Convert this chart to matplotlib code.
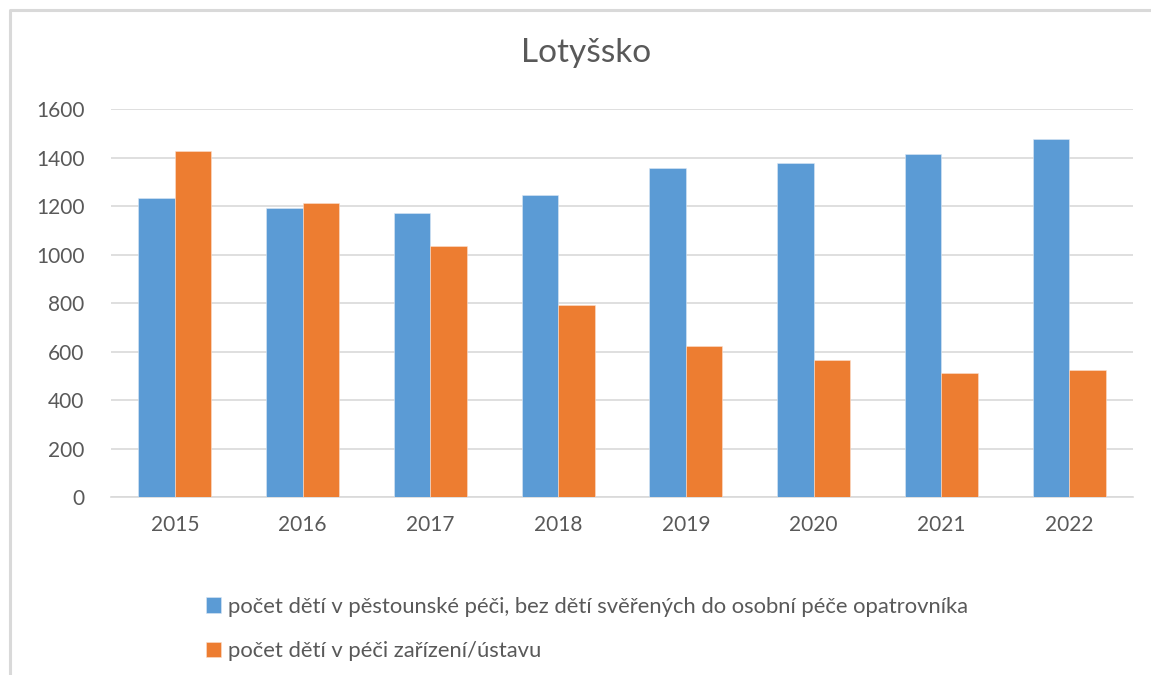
import numpy as np
import matplotlib.pyplot as plt
from matplotlib.lines import Line2D

plt.rcParams['font.family'] = ['Lato', 'DejaVu Sans']

years = ['2015', '2016', '2017', '2018', '2019', '2020', '2021', '2022']
foster_care = [1232, 1192, 1173, 1246, 1356, 1377, 1413, 1476]
institution = [1428, 1214, 1035, 792, 621, 566, 512, 525]
labels = ['počet dětí v pěstounské péči, bez dětí svěřených do osobní péče opatrovníka',
          'počet dětí v péči zařízení/ústavu']

blue = '#5B9BD5'
orange = '#ED7D31'
grey_text = '#595959'

fig = plt.figure(figsize=(11.51, 6.75), dpi=100)
ax = fig.add_axes([0.0964, 0.2637, 0.888, 0.5748])

# light frame (top and left edge) of the Excel chart area
fx, fy = 10/1151, 1 - 10/675
fig.lines.append(Line2D([fx, fx, 1.0], [0.0, fy, fy], transform=fig.transFigure,
                        color='#D9D9D9', linewidth=2.2))

x = np.arange(len(years))
w = 0.285
b1 = ax.bar(x - w/2, foster_care, w, color=blue, edgecolor='#dbe8f5', linewidth=0.4, zorder=3)
b2 = ax.bar(x + w/2, institution, w, color=orange, edgecolor='#fbe0d0', linewidth=0.4, zorder=3)

ax.set_xlim(-0.5, len(years) - 0.5)
ax.set_ylim(0, 1600)
ax.set_yticks(range(0, 1601, 200))
ax.set_xticks(x)
ax.set_xticklabels(years)
ax.grid(axis='y', color='#D9D9D9', linewidth=1.2, zorder=0)
for s in ['top', 'right', 'left']:
    ax.spines[s].set_visible(False)
ax.spines['bottom'].set_color('#D9D9D9')
ax.spines['bottom'].set_linewidth(1.2)
ax.tick_params(axis='both', length=0, labelsize=15, labelcolor=grey_text)
ax.tick_params(axis='x', pad=13)
ax.tick_params(axis='y', pad=19)

fig.text(0.509, 1 - 53/675, 'Lotyšsko', ha='center', va='center', fontsize=24, color=grey_text)

fig.legend([b1, b2], labels, loc='upper left', bbox_to_anchor=(186/1151, 1 - 577/675),
           frameon=False, handlelength=0.7, handleheight=0.7, handletextpad=0.3,
           labelspacing=1.1, fontsize=15.8, labelcolor=grey_text)

plt.savefig('out.png', dpi=100)
